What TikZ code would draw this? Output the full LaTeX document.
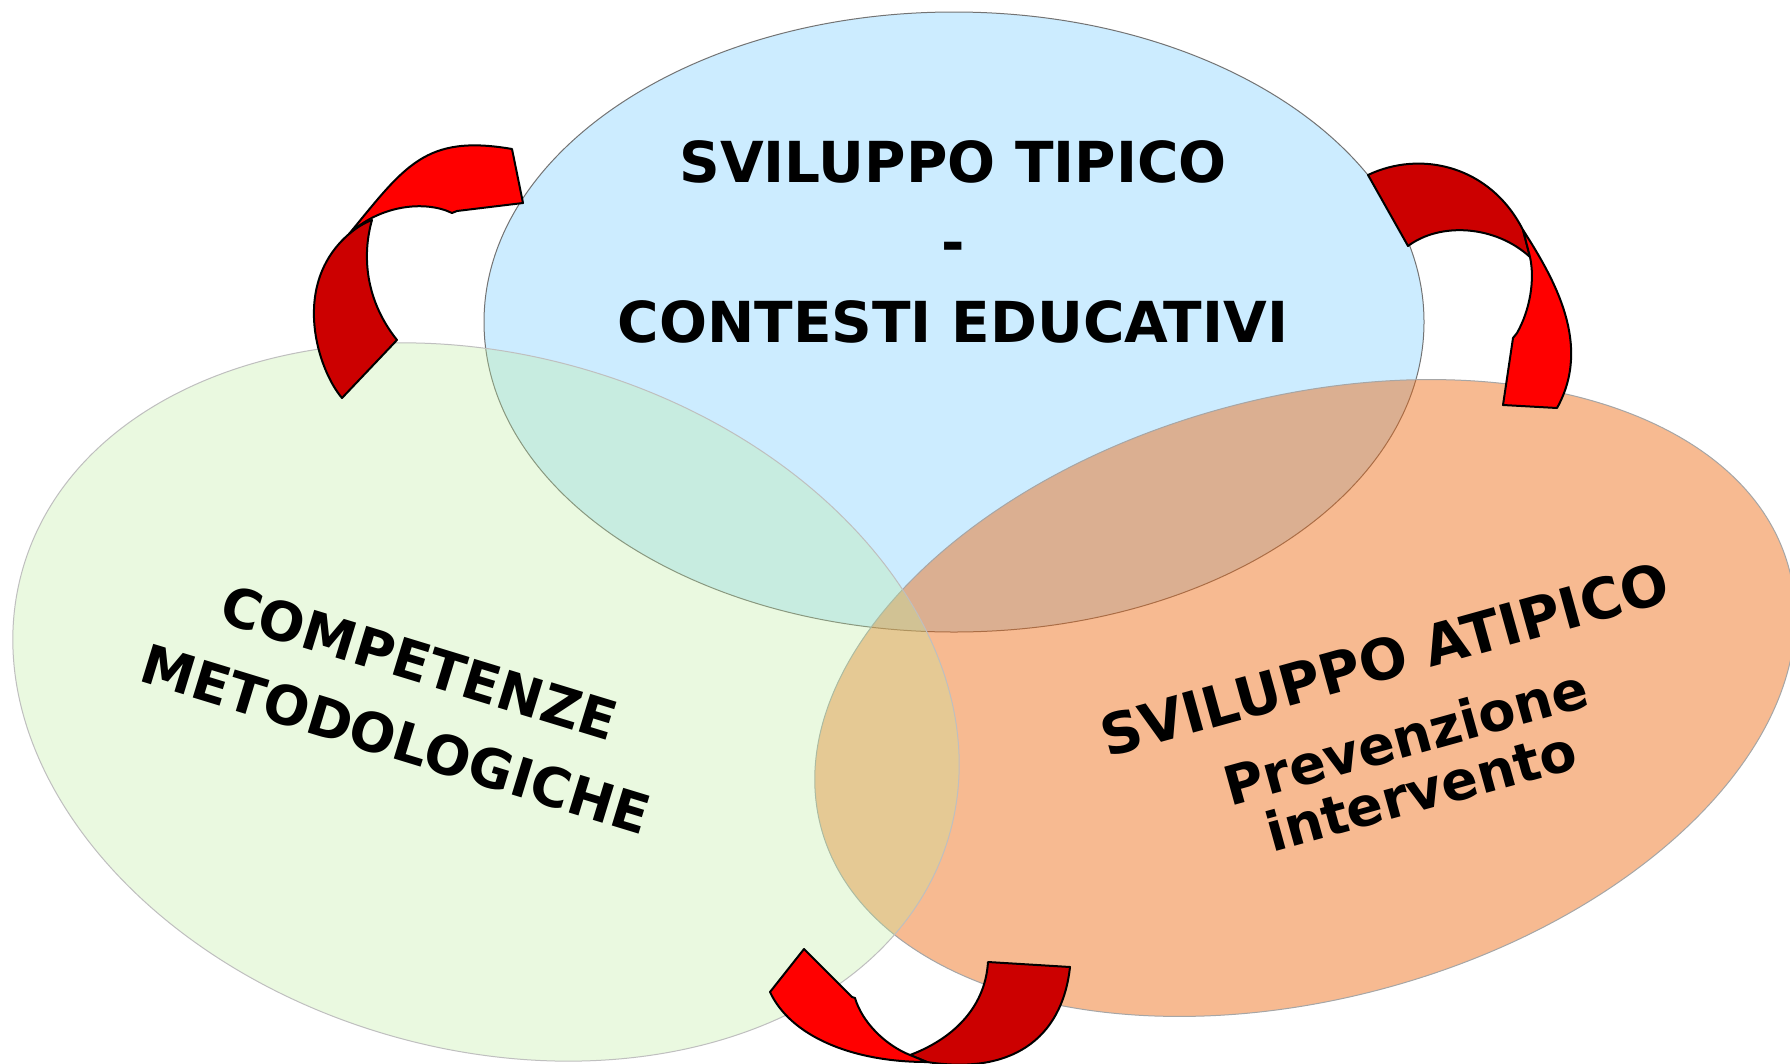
\documentclass[tikz,border=0pt]{standalone}
\usepackage{fontspec}
\setmainfont{DejaVu Sans}
\definecolor{tipico}{RGB}{204,236,255}
\definecolor{atipico}{RGB}{239,102,13}
\definecolor{metodo}{RGB}{188,238,155}
\definecolor{bandfront}{RGB}{255,0,0}
\definecolor{bandback}{RGB}{204,0,0}

\begin{document}
\begin{tikzpicture}[x=1pt,y=1pt]
        \tikzset{blob/.style={line width=1pt},
                 band/.style={draw=black,line width=2pt,line join=round},
                 txt/.style={font=\fontsize{54}{80}\selectfont\bfseries,align=center,anchor=base,inner sep=0pt}}

        \fill[white] (0,0) rectangle (1790,-1063);
        \useasboundingbox (0,0) rectangle (1790,-1063);

        \path[blob,fill=tipico,draw=black!55] (954,-322) ellipse [x radius=470,y radius=310];
        \path[blob,fill=atipico,fill opacity=0.45,draw=black!35,rotate around={15:(1305,-698)}] (1305,-698) ellipse [x radius=501,y radius=301];
        \path[blob,fill=metodo,fill opacity=0.3,draw=black!25,rotate around={-16:(486,-702)}] (486,-702) ellipse [x radius=482,y radius=347];

        \node[txt,font=\fontsize{56.5}{80}\selectfont\bfseries] (tipico) at (953,-342) {SVILUPPO TIPICO\\-\\CONTESTI EDUCATIVI};
        \node[txt,rotate=-17] (metodo) at (390,-758) {COMPETENZE\\METODOLOGICHE};
        \node[txt,rotate=15.5] (atipico) at (1426,-810) {{\fontsize{56.5}{80}\selectfont SVILUPPO ATIPICO}\\Prevenzione\\[-24pt]intervento};

        \filldraw[band,fill=bandback] (342,-398) .. controls (318,-370) and (290,-285) .. (349,-234)
            .. controls (356,-228) and (364,-223) .. (372,-220)
            .. controls (362,-255) and (365,-300) .. (397,-340) -- cycle;
        \filldraw[band,fill=bandfront] (349,-234) .. controls (405,-166) and (425,-134) .. (512,-149)
            -- (523,-203) -- (457,-211) -- (452,-213)
            .. controls (425,-200) and (380,-205) .. (349,-234) -- cycle;

        \filldraw[band,fill=bandback] (1368,-175) .. controls (1420,-150) and (1490,-165) .. (1523,-230)
            -- (1530,-257)
            .. controls (1495,-225) and (1440,-222) .. (1408,-246) -- cycle;
        \filldraw[band,fill=bandfront] (1523,-230) .. controls (1555,-280) and (1592,-345) .. (1557,-408)
            -- (1503,-405) -- (1513,-338) -- (1517,-333)
            .. controls (1530,-310) and (1535,-280) .. (1530,-257) -- cycle;

        \filldraw[band,fill=bandback] (910,-1055) .. controls (950,-1040) and (985,-1010) .. (988,-962)
            -- (1070,-967)
            .. controls (1062,-1040) and (1010,-1075) .. (927,-1062) -- cycle;
        \filldraw[band,fill=bandfront] (804,-949) -- (770,-992)
            .. controls (790,-1035) and (850,-1062) .. (927,-1062)
            -- (910,-1055)
            .. controls (885,-1045) and (862,-1022) .. (855,-998) -- (852,-997) -- cycle;
    \end{tikzpicture}
\end{document}
